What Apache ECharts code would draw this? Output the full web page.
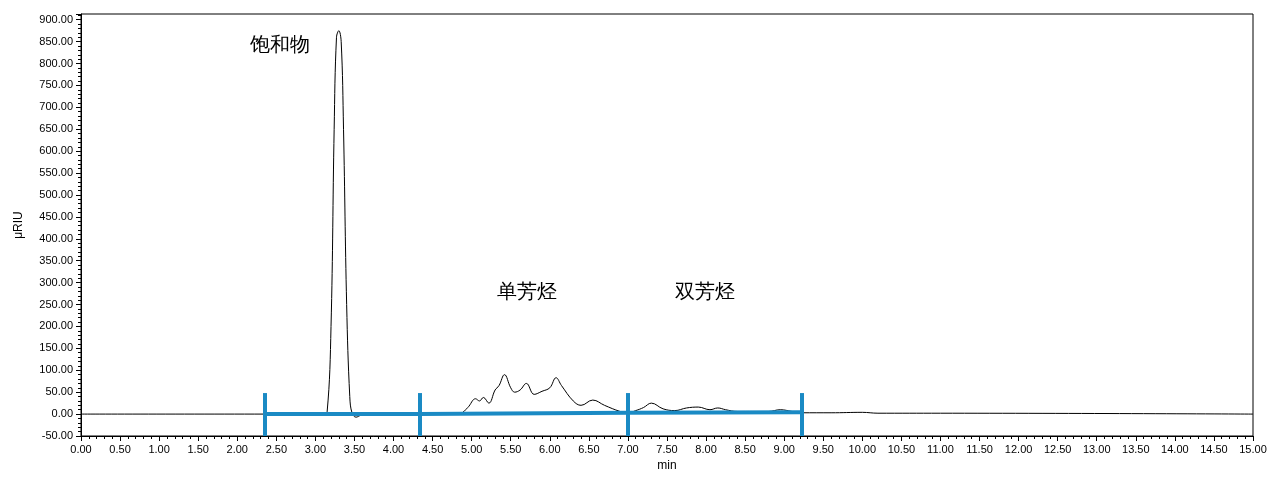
<!DOCTYPE html>
<html lang="zh">
<head>
    <meta charset="UTF-8">
    <title>色谱图</title>
    <style>
        html, body { margin: 0; padding: 0; background: #fff; }
        #main { width: 1280px; height: 489px; }
    </style>
</head>
<body>
    <div id="main"></div>
    <script src="https://cdn.jsdelivr.net/npm/echarts@6/dist/echarts.min.js"></script>
    <script>
        // 色谱曲线 (min, μRIU)
        var signal = [
            [0, 0], [3.1, 0], [3.15, 5], [3.2, 200], [3.24, 650], [3.27, 860], [3.3, 875],
            [3.33, 850], [3.36, 650], [3.4, 250], [3.44, 40], [3.47, 2], [3.52, -7], [3.58, -3],
            [3.7, 0], [4.5, 1], [4.85, 2], [4.95, 15], [5.05, 35], [5.1, 30], [5.15, 38],
            [5.22, 25], [5.3, 55], [5.35, 65], [5.42, 90], [5.5, 60], [5.55, 50], [5.62, 55],
            [5.7, 70], [5.8, 45], [5.9, 52], [6.0, 60], [6.08, 83], [6.15, 65], [6.3, 30],
            [6.4, 20], [6.55, 32], [6.7, 20], [6.9, 6], [7.0, 3], [7.1, 8], [7.2, 15],
            [7.3, 25], [7.45, 12], [7.6, 8], [7.75, 14], [7.9, 16], [8.05, 10], [8.15, 14],
            [8.25, 10], [8.4, 6], [8.8, 6], [8.95, 10], [9.1, 6], [9.22, 3], [9.6, 3],
            [10.0, 4], [10.2, 2], [11.0, 2], [15, 0]
        ];
        // 积分分段点
        var cutTimes = [2.35, 4.33, 7.0, 9.22];
        var baseline = [[2.35, 0], [4.33, 0], [7.0, 3], [9.22, 4]];
        var fractions = [
            { name: "饱和物", x: 283, y: 47 },
            { name: "单芳烃", x: 530, y: 294 },
            { name: "双芳烃", x: 708, y: 294 }
        ];

        var blue = "#1a8ac4";
        var chart = echarts.init(document.getElementById("main"));
        var option = {
            animation: false,
            grid: { left: 81, right: 27, top: 14, bottom: 53 },
            xAxis: {
                type: "value", min: 0, max: 15, interval: 0.5,
                name: "min", nameLocation: "middle", nameGap: 22,
                nameTextStyle: { color: "#000", fontSize: 12 },
                axisLine: { onZero: false, lineStyle: { color: "#000" } },
                axisTick: { inside: false, length: 5, lineStyle: { color: "#000" } },
                minorTick: { show: true, splitNumber: 5, length: 3, lineStyle: { color: "#000" } },
                axisLabel: { color: "#000", fontSize: 11, formatter: function (v) { return v.toFixed(2); } },
                splitLine: { show: false }
            },
            yAxis: {
                type: "value", min: -50, max: 913, interval: 50,
                name: "μRIU", nameLocation: "middle", nameGap: 56,
                nameTextStyle: { color: "#000", fontSize: 12 },
                axisLine: { show: true, lineStyle: { color: "#000" } },
                axisTick: { show: true, length: 5, lineStyle: { color: "#000" } },
                minorTick: { show: true, splitNumber: 5, length: 3, lineStyle: { color: "#000" } },
                axisLabel: { color: "#000", fontSize: 11, formatter: function (v) { return v.toFixed(2); } },
                splitLine: { show: false }
            },
            graphic: [{
                type: "rect", shape: { x: 81, y: 14, width: 1172, height: 422 },
                style: { fill: "none", stroke: "#000", lineWidth: 1 }, silent: true
            }].concat(fractions.map(function (f) {
                return {
                    type: "text", left: f.x - 33, top: f.y - 12,
                    style: { text: f.name, fontSize: 20, fill: "#000", font: "20px 'Noto Sans CJK SC'" }
                };
            })),
            series: [{
                type: "line", data: signal, smooth: 0.4, symbol: "none",
                lineStyle: { color: "#000", width: 1 }
            }, {
                type: "line", data: baseline, symbol: "none",
                lineStyle: { color: blue, width: 4 }, z: 3,
                markLine: {
                    symbol: "none", silent: true, label: { show: false },
                    lineStyle: { color: blue, width: 4, type: "solid" },
                    data: cutTimes.map(function (t) {
                        return [{ coord: [t, 48] }, { coord: [t, -50] }];
                    })
                }
            }]
        };
        chart.setOption(option);
    </script>
</body>
</html>
